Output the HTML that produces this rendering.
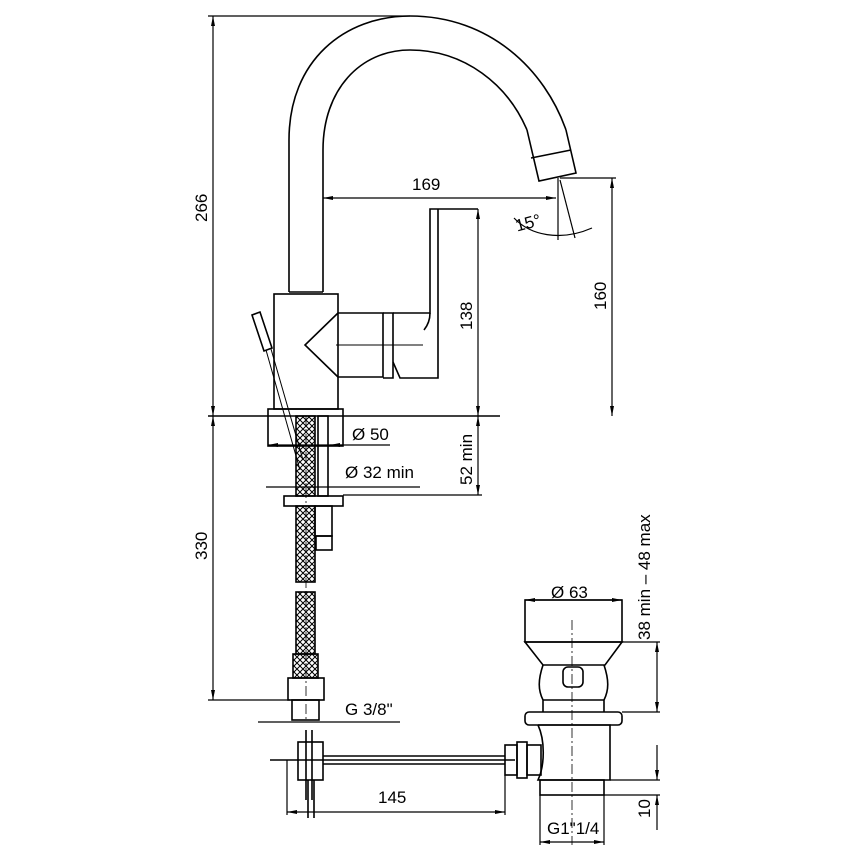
<!DOCTYPE html>
<html><head><style>html,body{margin:0;padding:0;background:#fff}svg{display:block}</style></head>
<body>
<svg width="856" height="856" viewBox="0 0 856 856" xmlns="http://www.w3.org/2000/svg" font-family="'Liberation Sans',sans-serif" font-size="17" fill="none" stroke="#000" stroke-width="1.6">
<defs>
<pattern id="mesh" width="6" height="6" patternUnits="userSpaceOnUse"><path d="M0,0L6,6M6,0L0,6" stroke="#000" stroke-width="1"/></pattern>
<marker id="a" markerWidth="10" markerHeight="6" refX="10" refY="3" orient="auto-start-reverse" markerUnits="userSpaceOnUse"><path d="M0,1L10,3L0,5z" fill="#000" stroke="none"/></marker>
</defs>
<!-- spout -->
<path d="M289,292 L289,140 C289,60 345,16 410,16 C490,16 545,70 566,130"/>
<path d="M323,292 L323,150 C323,90 360,50 410,50 C465,50 508,85 527,130"/>
<path d="M527,130 L539,181 L576,173 L566,130"/>
<path d="M531,158 L571,150"/>
<path d="M289,292 L323,292"/>
<!-- body -->
<rect x="274" y="294" width="64" height="115"/>
<path d="M338,313 L383,313 L383,377 L338,377 M338,313 L305,345 L338,377"/>
<path d="M383,313 L393,313 L393,378 L383,378"/>
<path d="M393,313 L430,313 L430,209 L478,209 M438,209 L438,378 L400,378 L393,362"/>
<path d="M430,313 C430,320 428,325 424,330"/>
<path d="M336,345 L423,345" stroke-width="1"/>
<!-- small lever -->
<path d="M252,315 L260,312 L272,348 L264,351 Z"/>
<path d="M266,350 L300,470 M271,349 L303,460" stroke-width="1"/>
<!-- base -->
<rect x="268" y="409" width="75" height="37"/>
<line x1="208" y1="416" x2="500" y2="416"/>
<rect x="296" y="416" width="19" height="80" fill="url(#mesh)"/>
<rect x="318" y="416" width="10" height="80"/>
<rect x="284" y="496" width="59" height="10"/>
<rect x="296" y="506" width="19" height="76" fill="url(#mesh)"/>
<rect x="315" y="506" width="17" height="30"/>
<rect x="316" y="536" width="16" height="14"/>
<rect x="296" y="592" width="19" height="62" fill="url(#mesh)"/>
<rect x="293" y="654" width="25" height="24" fill="url(#mesh)"/>
<rect x="288" y="678" width="36" height="22"/>
<rect x="292" y="700" width="27" height="20"/>
<line x1="306" y1="416" x2="306" y2="720" stroke-width="0.8" stroke-dasharray="10,3,2,3"/>
<!-- valve and pipe -->
<rect x="298" y="742" width="25" height="38"/>
<path d="M306,730 L306,800 M312,730 L312,800 M308,780 L308,818 M314,780 L314,818"/>
<path d="M270,760 L515,760 M323,756 L505,756 M323,764 L505,764"/>
<rect x="505" y="745" width="12" height="30"/>
<rect x="517" y="742" width="10" height="36"/>
<rect x="527" y="745" width="14" height="30"/>
<!-- waste -->
<rect x="525" y="600" width="97" height="42"/>
<path d="M525,642 L622,642 L605,665 L543,665 Z"/>
<path d="M543,665 C538,680 538,690 543,700 L543,712 M604,665 C609,680 609,690 604,700 L604,712 M543,700 L604,700"/>
<rect x="563" y="667" width="20" height="20" rx="5"/>
<rect x="525" y="712" width="97" height="13" rx="4"/>
<path d="M538,725 L610,725 L610,780 L538,780 C545,765 545,740 538,725"/>
<rect x="540" y="780" width="64" height="15"/>
<line x1="572" y1="620" x2="572" y2="845" stroke-width="0.8" stroke-dasharray="10,3,2,3"/>
<!-- dimensions -->
<g stroke-width="1.2">
<line x1="208" y1="16" x2="410" y2="16"/>
<line x1="213" y1="16" x2="213" y2="416" marker-start="url(#a)" marker-end="url(#a)"/>
<line x1="213" y1="416" x2="213" y2="700" marker-start="url(#a)" marker-end="url(#a)"/>
<line x1="208" y1="700" x2="290" y2="700"/>
<line x1="323" y1="198" x2="556" y2="198" marker-start="url(#a)" marker-end="url(#a)"/>
<line x1="558" y1="178" x2="558" y2="240"/>
<line x1="560" y1="178" x2="616" y2="178"/>
<line x1="612" y1="178" x2="612" y2="416" marker-start="url(#a)" marker-end="url(#a)"/>
<line x1="478" y1="209" x2="478" y2="416" marker-start="url(#a)" marker-end="url(#a)"/>
<line x1="478" y1="416" x2="478" y2="495" marker-start="url(#a)" marker-end="url(#a)"/>
<line x1="343" y1="495" x2="482" y2="495"/>
<line x1="560" y1="180" x2="575" y2="238"/>
<path d="M514,218 C530,235 560,242 592,228" />
<line x1="268" y1="445" x2="390" y2="445" marker-start="url(#a)"/>
<line x1="343" y1="445" x2="330" y2="445" marker-end="url(#a)"/>
<line x1="266" y1="487" x2="420" y2="487"/>
<line x1="258" y1="722" x2="400" y2="722"/>
<line x1="525" y1="600" x2="622" y2="600" marker-start="url(#a)" marker-end="url(#a)"/>
<line x1="622" y1="642" x2="660" y2="642"/>
<line x1="622" y1="712" x2="660" y2="712"/>
<line x1="657" y1="642" x2="657" y2="712" marker-start="url(#a)" marker-end="url(#a)"/>
<line x1="610" y1="780" x2="660" y2="780"/>
<line x1="604" y1="795" x2="660" y2="795"/>
<line x1="657" y1="745" x2="657" y2="780" marker-end="url(#a)"/>
<line x1="657" y1="830" x2="657" y2="795" marker-end="url(#a)"/>
<line x1="287" y1="812" x2="505" y2="812" marker-start="url(#a)" marker-end="url(#a)"/>
<line x1="287" y1="760" x2="287" y2="815"/>
<line x1="505" y1="775" x2="505" y2="815"/>
<line x1="540" y1="795" x2="540" y2="845"/>
<line x1="604" y1="795" x2="604" y2="845"/>
<line x1="540" y1="842" x2="604" y2="842" marker-start="url(#a)" marker-end="url(#a)"/>
</g>
<g fill="#000" stroke="none">
<text x="412" y="190">169</text>
<text x="515" y="228" transform="rotate(-15 530 222)">15°</text>
<text x="352" y="440">Ø 50</text>
<text x="345" y="478">Ø 32  min</text>
<text x="345" y="715">G  3/8"</text>
<text x="378" y="803">145</text>
<text x="551" y="598">Ø 63</text>
<text x="547" y="834">G1"1/4</text>
<text transform="translate(207,222) rotate(-90)">266</text>
<text transform="translate(207,560) rotate(-90)">330</text>
<text transform="translate(472,330) rotate(-90)">138</text>
<text transform="translate(606,310) rotate(-90)">160</text>
<text transform="translate(472,485) rotate(-90)">52  min</text>
<text transform="translate(650,640) rotate(-90)">38  min  –  48  max</text>
<text transform="translate(650,818) rotate(-90)">10</text>
</g>
</svg>
</body></html>
